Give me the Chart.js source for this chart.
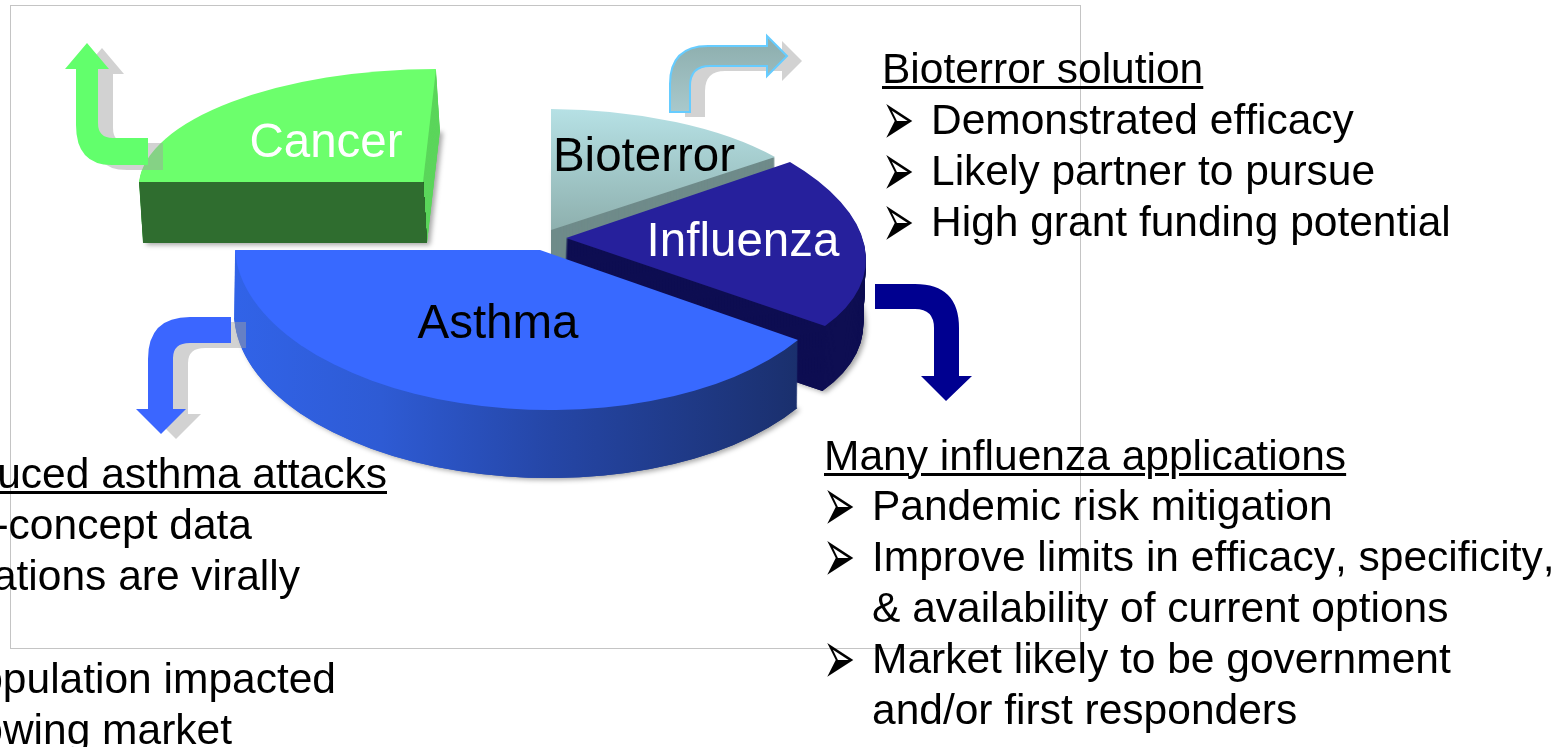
<!DOCTYPE html>
<html><head><meta charset="utf-8">
<style>
html,body{margin:0;padding:0;background:#fff;width:1566px;height:747px;overflow:hidden}
#wrap{position:relative;width:1566px;height:747px;overflow:hidden}
canvas{position:absolute;left:0;top:0}
.t{position:absolute;font:42.5px/51px "Liberation Sans",Arial,sans-serif;color:#000;white-space:pre;font-kerning:none}
.u{text-decoration:underline;text-decoration-thickness:3px;text-underline-offset:3px}
.b{font-family:"DejaVu Sans";font-size:32px;transform:scale(1.2,2.4);transform-origin:0 50%}
</style>
<script src="https://cdn.jsdelivr.net/npm/chart.js@4"></script>
</head><body><div id="wrap"><canvas id="c" width="1566" height="747"></canvas></div>
<script>
const categories = ['Bioterror','Influenza','Asthma','Cancer'];
const shares = [14.5, 20, 40.5, 25];
const topColors = ['#b0dadd','#26209c','#3869ff','#6cff6c'];
const labelColors = ['#000000','#ffffff','#000000','#ffffff'];
const headingsRight = ['Bioterror solution','Many influenza applications'];
const bioterrorBullets = ['Demonstrated efficacy','Likely partner to pursue','High grant funding potential'];
const influenzaBullets = ['Pandemic risk mitigation','Improve limits in efficacy, specificity,','Market likely to be government'];
const influenzaContinuation = ['& availability of current options','and/or first responders'];
const asthmaHeading = 'uced asthma attacks';
const asthmaLines = ['-concept data','ations are virally','opulation impacted','owing market'];

// slice geometry: apex and the two rim points on screen, plus wall height and taper
const geom = {
  Cancer:    {A:[423,182], P:[139,182], Q:[436,69],  depth:61, taper:0.065},
  Bioterror: {A:[551,230], P:[551,109], Q:[775,157], depth:60, taper:0},
  Influenza: {A:[566,238], P:[790,162], Q:[825,326], depth:65, taper:-0.04},
  Asthma:    {A:[540,250], P:[798,340], Q:[235,250], depth:68, taper:-0.01}
};

function matrix(arc, g){
  const p=g.P, q=g.Q;
  const R = arc.outerRadius, a1 = arc.startAngle, a2 = arc.endAngle;
  const c1=Math.cos(a1), s1=Math.sin(a1), c2=Math.cos(a2), s2=Math.sin(a2);
  const det = c1*s2 - s1*c2;
  const v1=[p[0]-g.A[0],p[1]-g.A[1]], v2=[q[0]-g.A[0],q[1]-g.A[1]];
  const a=(v1[0]*s2 - v2[0]*s1)/det, c=(c1*v2[0]-c2*v1[0])/det;
  const b=(v1[1]*s2 - v2[1]*s1)/det, d=(c1*v2[1]-c2*v1[1])/det;
  return {a:a/R,b:b/R,c:c/R,d:d/R};
}
function drawArc(ctx, arc, g, m, dx, dy, color){
  const e = g.A[0]+dx - (m.a*arc.x + m.c*arc.y);
  const f = g.A[1]+dy - (m.b*arc.x + m.d*arc.y);
  ctx.setTransform(m.a,m.b,m.c,m.d,e,f);
  const orig = arc.options;
  const o = Object.create(orig);
  o.backgroundColor = color; o.borderWidth = 0;
  arc.options = o; arc.draw(ctx); arc.options = orig;
  ctx.setTransform(1,0,0,1,0,0);
}
function localGrad(ctx, arc, g, m, x0,y0,x1,y1, stops){
  const det = m.a*m.d - m.b*m.c;
  const loc = (x,y)=>{ const X=x-g.A[0],Y=y-g.A[1];
    return [arc.x+(m.d*X-m.c*Y)/det, arc.y+(-m.b*X+m.a*Y)/det]; };
  const s=loc(x0,y0), t=loc(x1,y1);
  const gr=ctx.createLinearGradient(s[0],s[1],t[0],t[1]);
  stops.forEach(([k,c])=>gr.addColorStop(k,c));
  return gr;
}
function wall(ctx, arc, g, m, color){
  ctx.save();
  ctx.shadowColor='rgba(0,0,0,.35)'; ctx.shadowBlur=5; ctx.shadowOffsetX=3; ctx.shadowOffsetY=2;
  drawArc(ctx,arc,g,m,g.depth*g.taper,g.depth,color);
  ctx.restore();
  for(let i=g.depth;i>=1;i--) drawArc(ctx,arc,g,m,i*g.taper,i,color);
}
function arrow(ctx, build, fill, stroke, shadow){
  if(shadow){
    ctx.save(); ctx.translate(15,5); ctx.beginPath(); build(ctx);
    ctx.fillStyle='rgba(160,160,160,.48)'; ctx.fill(); ctx.restore();
  }
  ctx.beginPath(); build(ctx); ctx.fillStyle=fill; ctx.fill();
  if(stroke){ctx.strokeStyle=stroke;ctx.lineWidth=2;ctx.stroke();}
}
const path = pts => ctx => { pts.forEach((c,i)=>{
  if(i===0) ctx.moveTo(c[0],c[1]);
  else if(c.length===2) ctx.lineTo(c[0],c[1]);
  else ctx.quadraticCurveTo(c[0],c[1],c[2],c[3]);
}); ctx.closePath(); };

const pie3d = {
  id:'pie3d',
  beforeDatasetDraw(){ return false; },
  afterDatasetsDraw(chart){
    const ctx = chart.ctx, arcs = chart.getDatasetMeta(0).data;
    ctx.save(); ctx.strokeStyle='#c4c4c4'; ctx.lineWidth=1; ctx.strokeRect(10.5,5.5,1070,643); ctx.restore();
    const idx = n => categories.indexOf(n);
    const order = ['Cancer','Bioterror','Influenza','Asthma'];
    order.forEach(name=>{
      const i = idx(name), arc = arcs[i], g = geom[name], m = matrix(arc,g);
      if(name==='Cancer'){
        wall(ctx,arc,g,m,'#5cd65c');
        ctx.save(); ctx.beginPath(); ctx.moveTo(0,182); ctx.lineTo(423,182); ctx.lineTo(427,243); ctx.lineTo(427,260); ctx.lineTo(0,260); ctx.closePath(); ctx.clip();
        for(let k=g.depth;k>=1;k--) drawArc(ctx,arc,g,m,k*g.taper,k,'#2f6d2f');
        ctx.restore();
        drawArc(ctx,arc,g,m,0,0,topColors[i]);
      } else if(name==='Bioterror'){
        wall(ctx,arc,g,m,'#6f8b8a');
        drawArc(ctx,arc,g,m,0,0,localGrad(ctx,arc,g,m,600,109,600,230,[[0,'#b6e1e5'],[1,'#8eb0ae']]));
      } else if(name==='Influenza'){
        wall(ctx,arc,g,m,'#0e0e52');
        drawArc(ctx,arc,g,m,0,0,topColors[i]);
      } else {
        wall(ctx,arc,g,m,localGrad(ctx,arc,g,m,235,300,800,300,[[0,'#3163e8'],[.25,'#2e5bd4'],[.55,'#2546a6'],[1,'#1a2f6c']]));
        drawArc(ctx,arc,g,m,0,0,topColors[i]);
      }
    });
    arrow(ctx,path([[76,69],[65,69],[87,43],[109,69],[98,69],[98,123],[98,138,113,138],[148,138],[148,165],[112,165],[76,165,76,125]]),'#62ff6c',null,true);
    const grad = ctx.createLinearGradient(0,46,0,112); grad.addColorStop(0,'#8fb0b0'); grad.addColorStop(1,'#a9c9cc');
    arrow(ctx,path([[670,112],[670,84],[670,46,708,46],[767,46],[767,36],[787,56],[767,76],[767,66],[710,66],[690,66,690,86],[690,112]]),grad,'#66ccff',true);
    arrow(ctx,path([[875,284],[915,284],[959,284,959,328],[959,376],[972,376],[946,401],[921,376],[934,376],[934,328],[934,309,915,309],[875,309]]),'#000090',null,false);
    arrow(ctx,path([[231,317],[190,317],[148,317,148,359],[148,409],[136,409],[161,434],[186,409],[173,409],[173,358],[173,343,190,343],[231,343]]),'#3b66ff',null,true);
    const labelAt = {Cancer:[326,144],Bioterror:[644,158],Influenza:[743,243],Asthma:[498,325]};
    ctx.save(); ctx.font='47.5px "Liberation Sans", Arial, sans-serif'; ctx.textAlign='center'; ctx.textBaseline='middle';
    categories.forEach((n,i)=>{ ctx.fillStyle=labelColors[i]; ctx.fillText(n,labelAt[n][0],labelAt[n][1]); });
    ctx.restore();
  }
};
Chart.register(pie3d);
new Chart(document.getElementById('c'),{
  type:'pie',
  data:{labels:categories,datasets:[{data:shares,backgroundColor:topColors,borderWidth:0}]},
  options:{responsive:false,animation:false,events:[],plugins:{legend:{display:false},tooltip:{enabled:false}}}
});

const wrap=document.getElementById('wrap');
function put(txt,opts){
  const d=document.createElement('div'); d.className='t'+(opts.cls?' '+opts.cls:''); d.textContent=txt;
  if(opts.right!==undefined) d.style.right=(1566-opts.right)+'px'; else d.style.left=opts.x+'px';
  d.style.top=(opts.y-25.5)+'px'; wrap.appendChild(d);
}
put(headingsRight[0],{x:882,y:68,cls:'u'});
bioterrorBullets.forEach((s,i)=>{ const y=119+51*i; put('\u27A2',{x:882,y:y,cls:'b'}); put(s,{x:931,y:y}); });
put(headingsRight[1],{x:824,y:455,cls:'u'});
[[0,505],[1,556],[2,658]].forEach(([k,y])=>{ put('\u27A2',{x:823,y:y,cls:'b'}); put(influenzaBullets[k],{x:872,y:y}); });
put(influenzaContinuation[0],{x:872,y:607}); put(influenzaContinuation[1],{x:872,y:709});
put(asthmaHeading,{right:387,y:473,cls:'u'});
[[0,252,524],[1,300,575],[2,336,678],[3,232,729]].forEach(([k,r,y])=>put(asthmaLines[k],{right:r,y:y}));
</script></body></html>
